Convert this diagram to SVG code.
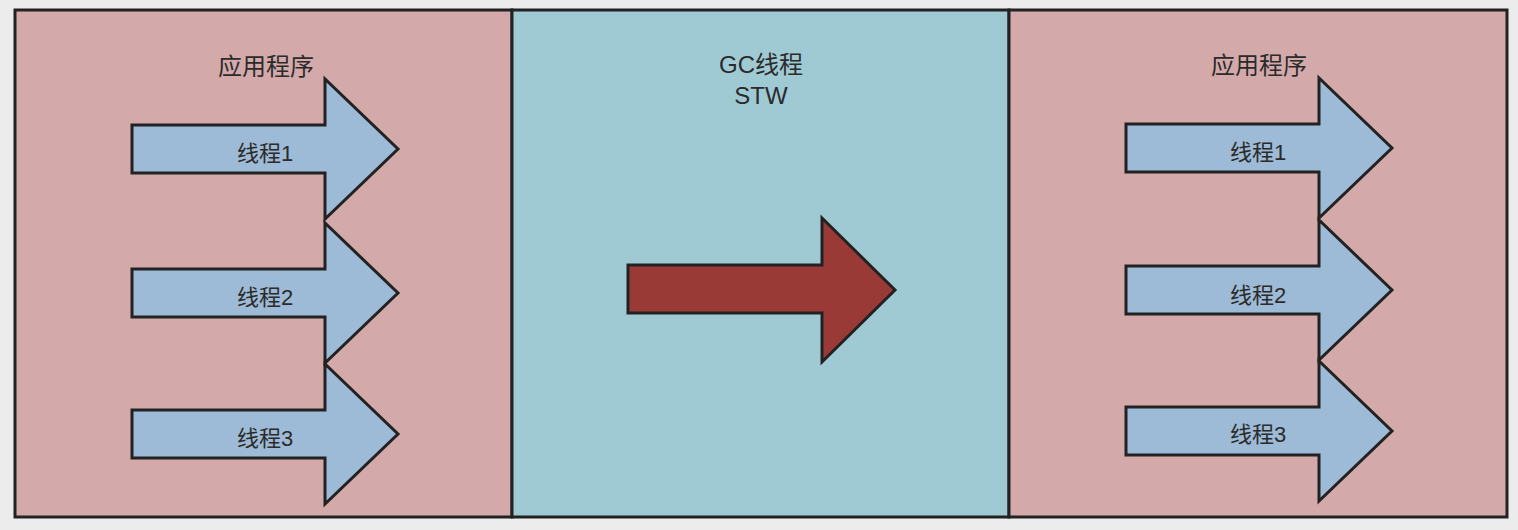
<svg xmlns="http://www.w3.org/2000/svg" width="1518" height="530" viewBox="0 0 1518 530">
<style>
.panel{stroke:#222;stroke-width:3}
.app{fill:#d4a9aa}
.gc{fill:#9fcad4}
.arr{fill:#9dbad6;stroke:#222;stroke-width:3;stroke-linejoin:miter}
.red{fill:#9a3a37;stroke:#222;stroke-width:3}
text{font-family:"Liberation Sans","Noto Sans CJK SC",sans-serif;font-size:22px;fill:#2b2b2b;text-anchor:middle;dominant-baseline:central}
text.h{font-size:24px}
</style>
<defs>
<path id="thr" d="M0,-24 H193 V-70 L266,0 L193,70 V24 H0 Z"/>
</defs>
<rect x="0" y="0" width="1518" height="530" fill="#ececec"/>
<g id="panel-left">
<rect class="panel app" x="15" y="10" width="497" height="507"/>
<text class="h" x="266" y="66">应用程序</text>
</g>
<g id="panel-gc">
<rect class="panel gc" x="512" y="10" width="497" height="507"/>
<text class="h" x="761" y="64">GC线程</text>
<text class="h" x="761" y="95">STW</text>
</g>
<g id="panel-right">
<rect class="panel app" x="1009" y="10" width="498" height="507"/>
<text class="h" x="1259" y="65">应用程序</text>
</g>
<g id="left-thread1"><use href="#thr" class="arr" x="132" y="149"/><text x="265" y="153">线程1</text></g>
<g id="left-thread2"><use href="#thr" class="arr" x="132" y="293"/><text x="265" y="297">线程2</text></g>
<g id="left-thread3"><use href="#thr" class="arr" x="132" y="434"/><text x="265" y="438">线程3</text></g>
<g id="right-thread1"><use href="#thr" class="arr" x="1126" y="148"/><text x="1258" y="152">线程1</text></g>
<g id="right-thread2"><use href="#thr" class="arr" x="1126" y="290"/><text x="1258" y="295">线程2</text></g>
<g id="right-thread3"><use href="#thr" class="arr" x="1126" y="431"/><text x="1258" y="434">线程3</text></g>
<g id="connectors">
<path class="red" d="M628,265 H822 V218 L895,290 L822,362 V313 H628 Z"/>
</g>
</svg>
